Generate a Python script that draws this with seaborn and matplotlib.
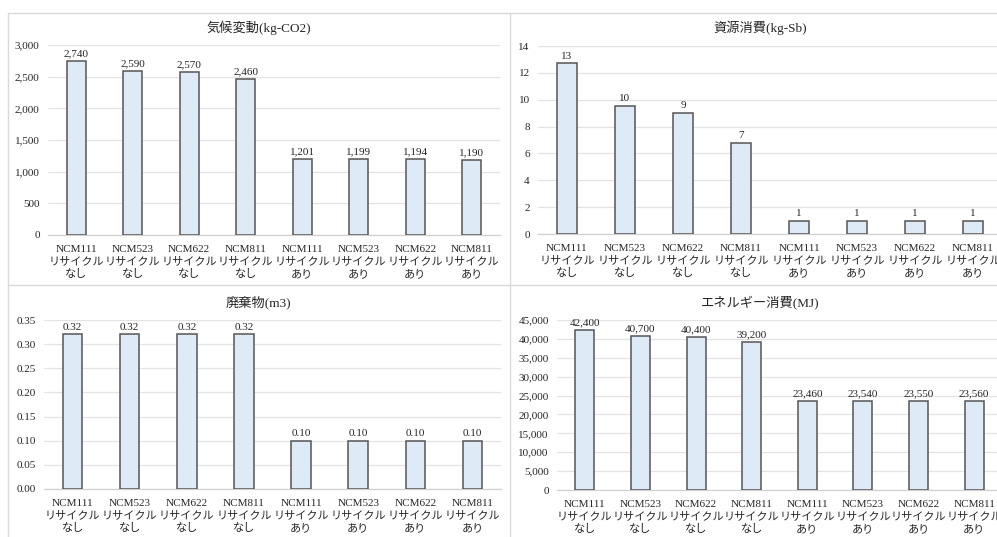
import matplotlib
matplotlib.use("Agg")
import matplotlib.pyplot as plt
from matplotlib.lines import Line2D
from matplotlib.ticker import FuncFormatter
import seaborn as sns
import pandas as pd

sns.set_theme(style="white")
FONT = ["Liberation Serif", "Noto Sans CJK JP"]
plt.rcParams["font.family"] = FONT

# --- data -------------------------------------------------------------
models = ["NCM111", "NCM523", "NCM622", "NCM811"] * 2
recycle = ["なし"] * 4 + ["あり"] * 4
categories = [f"{m}\nリサイクル\n{r}" for m, r in zip(models, recycle)]

climate = [2740, 2590, 2570, 2460, 1201, 1199, 1194, 1190]          # kg-CO2
resource = [12.7, 9.52, 9.0, 6.8, 1.0, 0.95, 0.95, 1.0]             # kg-Sb
waste = [0.32, 0.32, 0.32, 0.32, 0.10, 0.10, 0.10, 0.10]            # m3
energy = [42400, 40700, 40400, 39200, 23460, 23540, 23550, 23560]   # MJ

titles = ["気候変動(kg-CO2)", "資源消費(kg-Sb)", "廃棄物(m3)", "エネルギー消費(MJ)"]
series = [climate, resource, waste, energy]
label_fmt = ["{:,.0f}", "{:.0f}", "{:.2f}", "{:,.0f}"]
ylims = [(0, 3000), (0, 14), (0, 0.35), (0, 45000)]
ysteps = [500, 2, 0.05, 5000]

# --- layout (pixels) ----------------------------------------------------
W, H = 997, 537
fig = plt.figure(figsize=(W / 100, H / 100), dpi=100)
fig.patch.set_facecolor("white")

# left, top-of-plot, width, baseline (pixel coords from top-left)
boxes = [
    (48, 45, 452, 235),
    (538, 46, 464, 234),
    (44, 320, 457, 489),
    (557, 320, 445, 490),
]
title_pos = [(259, 28), (760, 28), (258, 302), (760, 302)]

BAR = "#DEEAF6"
EDGE = "#555555"
GRID = "#E3E3E3"
TXT = "#262626"
FS = 8

for i in range(4):
    l, t, w, b = boxes[i]
    ax = fig.add_axes([l / W, (H - b) / H, w / W, (b - t) / H])
    df = pd.DataFrame({"category": categories, "value": series[i]})
    sns.barplot(data=df, x="category", y="value", order=categories,
                color=BAR, edgecolor=EDGE, linewidth=1.1, width=0.34,
                saturation=1, ax=ax, zorder=3)
    lo, hi = ylims[i]
    step = ysteps[i]
    n = int(round((hi - lo) / step))
    ticks = [lo + k * step for k in range(n + 1)]
    ax.set_ylim(lo, hi)
    ax.set_xlim(-0.5, 7.5)
    ax.set_yticks(ticks)
    fmt = "{:,.0f}" if i in (0, 3) else ("{:.0f}" if i == 1 else "{:.2f}")
    ax.yaxis.set_major_formatter(FuncFormatter(lambda v, p, f=fmt: f.format(v)))
    ax.grid(axis="y", color=GRID, linewidth=0.9, zorder=0)
    ax.grid(axis="x", visible=False)
    for s in ["top", "right", "left"]:
        ax.spines[s].set_visible(False)
    ax.spines["bottom"].set_color("#D0D0D0")
    ax.spines["bottom"].set_linewidth(0.9)
    ax.tick_params(axis="both", length=0, labelsize=FS, colors=TXT)
    ax.tick_params(axis="y", pad=6)
    ax.tick_params(axis="x", pad=7.5)
    for lab in ax.get_xticklabels():
        lab.set_linespacing(1.3)
    ax.set_xlabel("")
    ax.set_ylabel("")
    ax.set_facecolor("none")
    for x, v in enumerate(series[i]):
        ax.annotate(label_fmt[i].format(v), (x, v), xytext=(0, 2),
                    textcoords="offset points", ha="center", va="bottom",
                    fontsize=FS, color=TXT)
    tx, ty = title_pos[i]
    fig.text(tx / W, 1 - ty / H, titles[i], ha="center", va="center",
             fontsize=9.5, color=TXT, family=FONT)

# panel frames
fc = "#D9D9D9"
def hline(y, x0, x1):
    fig.add_artist(Line2D([x0 / W, x1 / W], [1 - y / H, 1 - y / H],
                          color=fc, linewidth=1.0, transform=fig.transFigure))
def vline(x, y0, y1):
    fig.add_artist(Line2D([x / W, x / W], [1 - y0 / H, 1 - y1 / H],
                          color=fc, linewidth=1.0, transform=fig.transFigure))

hline(13, 8, W)
hline(285, 8, W)
vline(8, 13, H)
vline(510, 13, H)

fig.savefig("out.png", dpi=100, facecolor="white")
